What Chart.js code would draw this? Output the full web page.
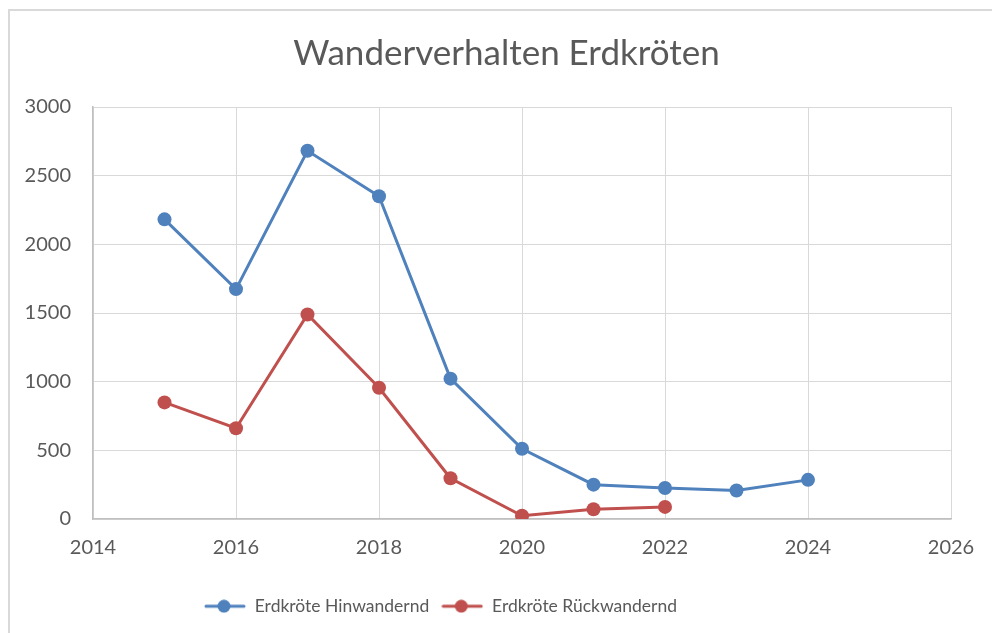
<!DOCTYPE html>
<html>
<head>
<meta charset="utf-8">
<script src="https://cdn.jsdelivr.net/npm/chart.js@4"></script>
<style>
  html, body { margin: 0; padding: 0; background: #fff; }
  #wrap { width: 992px; height: 633px; }
</style>
</head>
<body>
<div id="wrap"><canvas id="chart" width="992" height="633"></canvas></div>
<script>
// Data
const hinYears = [2015, 2016, 2017, 2018, 2019, 2020, 2021, 2022, 2023, 2024];
const hinValues = [2182, 1674, 2681, 2350, 1022, 511, 250, 226, 207, 285];
const rueckYears = [2015, 2016, 2017, 2018, 2019, 2020, 2021, 2022];
const rueckValues = [849, 661, 1489, 956, 297, 24, 71, 88];
const xTicks = [2014, 2016, 2018, 2020, 2022, 2024, 2026];
const yTicks = [0, 500, 1000, 1500, 2000, 2500, 3000];

const blue = '#4F81BD';
const red = '#C0504D';
const textColor = '#595959';
const font = 'Lato, "Open Sans", sans-serif';

// Legend marker: short line with a dot on it
function legendIcon(color) {
    const c = document.createElement('canvas');
    c.width = 42;
    c.height = 14;
    const ctx = c.getContext('2d');
    ctx.strokeStyle = color;
    ctx.lineWidth = 3;
    ctx.lineCap = 'round';
    ctx.beginPath();
    ctx.moveTo(2, 7);
    ctx.lineTo(40, 7);
    ctx.stroke();
    ctx.fillStyle = color;
    ctx.beginPath();
    ctx.arc(20, 7, 6.5, 0, Math.PI * 2);
    ctx.fill();
    return c;
}

// Outer frame of the chart
const framePlugin = {
    id: 'frame',
    beforeDraw(chart) {
        const ctx = chart.ctx;
        ctx.save();
        ctx.fillStyle = '#fff';
        ctx.fillRect(0, 0, chart.width, chart.height);
        ctx.strokeStyle = '#d9d9d9';
        ctx.lineWidth = 2;
        ctx.strokeRect(9, 10, chart.width + 20, chart.height + 20);
        ctx.restore();
    },
    afterLayout(chart) {
        // Excel centres title and legend differently from the plot area
        chart.legend.left -= 35;
        chart.legend.right -= 35;
        chart.titleBlock.left += 31;
        chart.titleBlock.right += 31;
    }
};

const chart = new Chart(document.getElementById('chart').getContext('2d'), {
    type: 'scatter',
    data: {
        datasets: [{
            label: 'Erdkröte Hinwandernd',
            data: hinYears.map((x, i) => ({x: x, y: hinValues[i]})),
            borderColor: blue,
            backgroundColor: blue,
            showLine: true,
            borderWidth: 3,
            pointRadius: 7,
            pointHoverRadius: 7,
            pointBorderWidth: 0
        }, {
            label: 'Erdkröte Rückwandernd',
            data: rueckYears.map((x, i) => ({x: x, y: rueckValues[i]})),
            borderColor: red,
            backgroundColor: red,
            showLine: true,
            borderWidth: 3,
            pointRadius: 7,
            pointHoverRadius: 7,
            pointBorderWidth: 0
        }]
    },
    options: {
        responsive: false,
        animation: false,
        layout: {
            padding: {left: 0, right: 41, top: 0, bottom: 8}
        },
        plugins: {
            title: {
                display: true,
                text: 'Wanderverhalten Erdkröten',
                color: textColor,
                font: {family: font, size: 35, weight: 'normal'},
                padding: {top: 33, bottom: 32}
            },
            legend: {
                display: true,
                position: 'bottom',
                labels: {
                    color: textColor,
                    font: {family: font, size: 17.5},
                    usePointStyle: true,
                    pointStyleWidth: 42,
                    boxHeight: 14,
                    padding: 12,
                    generateLabels: function(chart) {
                        return chart.data.datasets.map((ds, i) => ({
                            text: ds.label,
                            fillStyle: ds.backgroundColor,
                            strokeStyle: ds.borderColor,
                            fontColor: textColor,
                            lineWidth: 0,
                            pointStyle: legendIcon(ds.borderColor),
                            hidden: false,
                            datasetIndex: i
                        }));
                    }
                }
            },
            tooltip: {enabled: false}
        },
        scales: {
            x: {
                type: 'linear',
                min: 2014,
                max: 2026,
                afterBuildTicks: scale => { scale.ticks = xTicks.map(v => ({value: v})); },
                afterFit: scale => { scale.height = 66.5; },
                grid: {color: '#d9d9d9', lineWidth: 1, drawTicks: false},
                border: {color: '#bfbfbf', width: 1.5},
                ticks: {
                    color: textColor,
                    font: {family: font, size: 20},
                    padding: 17,
                    maxRotation: 0,
                    callback: v => String(v)
                }
            },
            y: {
                min: 0,
                max: 3000,
                afterBuildTicks: scale => { scale.ticks = yTicks.map(v => ({value: v})); },
                afterFit: scale => { scale.width = 93; },
                grid: {color: '#d9d9d9', lineWidth: 1, drawTicks: false},
                border: {color: '#bfbfbf', width: 1.5},
                ticks: {
                    color: textColor,
                    font: {family: font, size: 20},
                    padding: 22,
                    callback: v => String(v)
                }
            }
        }
    },
    plugins: [framePlugin]
});
</script>
</body>
</html>
